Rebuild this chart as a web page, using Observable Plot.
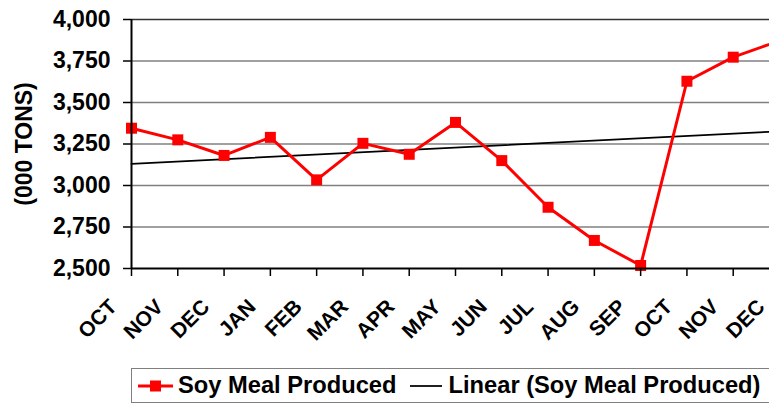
<!DOCTYPE html>
<html>
<head>
<meta charset="utf-8">
<script src="https://cdn.jsdelivr.net/npm/d3@7"></script>
<script src="https://cdn.jsdelivr.net/npm/@observablehq/plot@0.6"></script>
<style>
  html, body { margin: 0; padding: 0; background: #fff; overflow: hidden; width: 769px; height: 406px; }
  #chart svg { display: block; }
  .legend {
    position: relative; margin-left: 131px; width: 700px; height: 35px;
    border: 1.5px solid #808080; box-sizing: border-box;
    display: flex; align-items: center;
    font-family: "Liberation Sans", Arial, sans-serif; font-weight: bold; font-size: 23.7px; color: #000;
    white-space: nowrap;
  }
  .legend svg { display: block; flex: none; }
</style>
</head>
<body>
<div id="chart"></div>
<script>
const months = ["OCT","NOV","DEC","JAN","FEB","MAR","APR","MAY","JUN","JUL","AUG","SEP","OCT","NOV","DEC"];
const soyMeal = [3345, 3275, 3181, 3290, 3034, 3254, 3188, 3380, 3150, 2869, 2669, 2518, 3628, 3773, 3872];
const yTicks = [2500, 2750, 3000, 3250, 3500, 3750, 4000];
const seriesName = "Soy Meal Produced";
const trendName = "Linear (Soy Meal Produced)";
const yTitle = "(000 TONS)";

const data = months.map((m, i) => ({i, month: m, value: soyMeal[i]}));
const font = "'Liberation Sans', Arial, sans-serif";

const chart = Plot.plot({
  width: 769,
  height: 368,
  marginLeft: 131,
  marginRight: 0,
  marginTop: 19,
  marginBottom: 100,
  style: {fontFamily: font, fontWeight: "bold", fontSize: "23px", color: "#000", background: "#fff", overflow: "hidden"},
  x: {type: "linear", domain: [0, months.length - 1], range: [131, 779]},
  y: {domain: [2500, 4000], range: [268, 19]},
  marks: [
    Plot.ruleY(yTicks.slice(1, -1), {stroke: "#808080", strokeWidth: 1.5}),
    Plot.ruleY([yTicks[yTicks.length - 1]], {stroke: "#333", strokeWidth: 1.5}),
    Plot.linearRegressionY(data, {x: "i", y: "value", ci: 0, stroke: "#000", strokeWidth: 1.75}),
    Plot.line(data, {x: "i", y: "value", stroke: "#ff0000", strokeWidth: 3}),
    Plot.dot(data, {x: "i", y: "value", symbol: "square", r: 6.2, fill: "#ff0000", stroke: "none"}),
    Plot.ruleX([0], {stroke: "#000", strokeWidth: 2}),
    Plot.ruleY([yTicks[0]], {stroke: "#000", strokeWidth: 2}),
    Plot.axisY({
      ticks: yTicks, tickSize: 8, tickPadding: 13, tickFormat: d3.format(","),
      fontSize: 23, strokeWidth: 1.5,
      label: yTitle, labelAnchor: "center", labelArrow: "none", labelOffset: 116
    }),
    Plot.axisX({
      ticks: d3.range(months.length), tickSize: 8, text: null, strokeWidth: 1.5, label: null
    }),
    Plot.text(data, {
      x: "i", y: () => yTicks[0], text: "month",
      rotate: -45, textAnchor: "end", lineAnchor: "top",
      fontSize: 21, fontWeight: "bold", dx: -24, dy: 29
    })
  ]
});
document.getElementById("chart").appendChild(chart);

// Legend below the SVG
const legend = document.createElement("div");
legend.className = "legend";
legend.innerHTML = `
  <svg width="35" height="14" style="margin-left:6px"><line x1="0" x2="35" y1="7" y2="7" stroke="#ff0000" stroke-width="3"/><rect x="12" y="1.5" width="11" height="11" fill="#ff0000"/></svg>
  <span style="margin-left:5px">${seriesName}</span>
  <svg width="32" height="14" style="margin-left:13px"><line x1="0" x2="32" y1="7" y2="7" stroke="#000" stroke-width="1.75"/></svg>
  <span style="margin-left:7px">${trendName}</span>`;
document.body.appendChild(legend);
</script>
</body>
</html>
